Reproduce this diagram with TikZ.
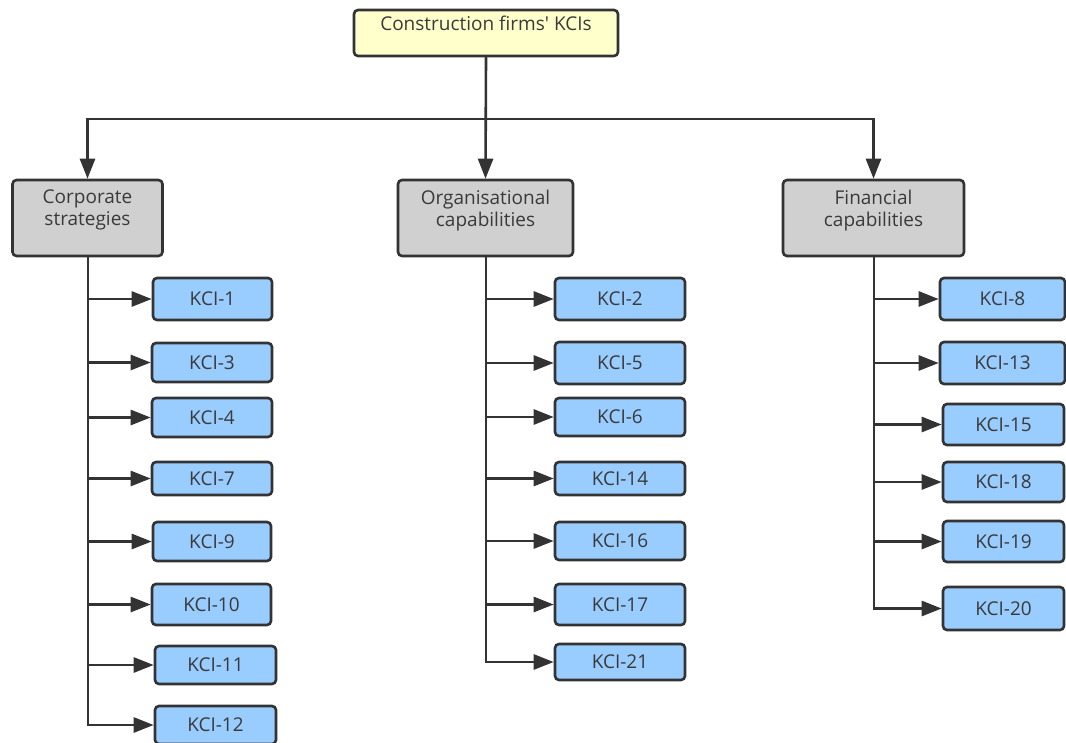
\documentclass[tikz,border=0pt]{standalone}
\usepackage{fontspec}
\setmainfont{Open Sans}[Ligatures=TeXOff]
\usetikzlibrary{arrows.meta}
\definecolor{linec}{HTML}{333333}
\definecolor{txtc}{HTML}{3A3A3A}
\definecolor{yellowf}{HTML}{FFFFCC}
\definecolor{grayf}{HTML}{D0D0D0}
\definecolor{bluef}{HTML}{99CCFF}
\tikzset{
  box/.style={draw=linec, line width=2.6pt, rounded corners=4pt, inner sep=0pt,
    font=\fontsize{19}{22}\selectfont, text=txtc},
  titlebox/.style={box, fill=yellowf, minimum width=264pt, minimum height=46pt},
  catbox/.style={box, fill=grayf, minimum height=76pt},
  kcibox/.style={box, fill=bluef},
  toplabel/.style={anchor=north, inner sep=0pt, align=center, text=txtc,
    font=\fontsize{19}{22}\selectfont},
  arr/.style={draw=linec, line width=2.6pt, -{Triangle[length=20pt,width=15pt]}},
}
\begin{document}
\begin{tikzpicture}[x=1pt,y=-1pt]
\useasboundingbox (0,0) rectangle (1066,742);
% title
\node[titlebox, label={[toplabel, yshift=-7pt]north:Construction firms' KCIs}] (title) at (486,33) {};
% categories
\node[catbox, minimum width=150pt, label={[toplabel, yshift=-11pt]north:Corporate\\strategies}] (cs) at (87.5,218) {};
\node[catbox, minimum width=175pt, label={[toplabel, yshift=-11pt]north:Organisational\\capabilities}] (org) at (485.5,218) {};
\node[catbox, minimum width=181pt, label={[toplabel, yshift=-11pt]north:Financial\\capabilities}] (fin) at (873.5,218) {};
% left column
\node[kcibox, minimum width=119pt, minimum height=42pt] (k1) at (212.5,299) {KCI-1};
\node[kcibox, minimum width=120pt, minimum height=39pt] (k3) at (212,362.5) {KCI-3};
\node[kcibox, minimum width=120pt, minimum height=39pt] (k4) at (212,417.5) {KCI-4};
\node[kcibox, minimum width=120pt, minimum height=33pt] (k7) at (212,478.5) {KCI-7};
\node[kcibox, minimum width=118pt, minimum height=39pt] (k9) at (212,541.5) {KCI-9};
\node[kcibox, minimum width=119pt, minimum height=41pt] (k10) at (211.5,604.5) {KCI-10};
\node[kcibox, minimum width=121pt, minimum height=38pt] (k11) at (215.5,665) {KCI-11};
\node[kcibox, minimum width=121pt, minimum height=38pt] (k12) at (215.5,725) {KCI-12};
% middle column
\node[kcibox, minimum width=130pt, minimum height=42pt] (k2) at (620,299) {KCI-2};
\node[kcibox, minimum width=130pt, minimum height=42pt] (k5) at (620,363) {KCI-5};
\node[kcibox, minimum width=130pt, minimum height=38pt] (k6) at (620,417) {KCI-6};
\node[kcibox, minimum width=130pt, minimum height=33pt] (k14) at (620,478.5) {KCI-14};
\node[kcibox, minimum width=130pt, minimum height=38pt] (k16) at (620,541) {KCI-16};
\node[kcibox, minimum width=130pt, minimum height=41pt] (k17) at (620,604.5) {KCI-17};
\node[kcibox, minimum width=130pt, minimum height=36pt] (k21) at (620,662) {KCI-21};
% right column
\node[kcibox, minimum width=125pt, minimum height=42pt] (k8) at (1002.5,299) {KCI-8};
\node[kcibox, minimum width=125pt, minimum height=42pt] (k13) at (1002.5,363) {KCI-13};
\node[kcibox, minimum width=121pt, minimum height=41pt] (k15) at (1003.5,424.5) {KCI-15};
\node[kcibox, minimum width=121pt, minimum height=40pt] (k18) at (1003.5,482) {KCI-18};
\node[kcibox, minimum width=121pt, minimum height=41pt] (k19) at (1003.5,541.5) {KCI-19};
\node[kcibox, minimum width=121pt, minimum height=43pt] (k20) at (1003.5,608.5) {KCI-20};
% top connectors
\draw[arr] (title.south) -- (title.south |- 0,119) -| (cs.north);
\draw[arr] (title.south) -- (title.south |- 0,119) -| (fin.north);
\draw[arr] (title.south) -- (org.north);
% branches
\foreach \k in {k1,k3,k4,k7,k9,k10,k11,k12}{
  \draw[arr] (88,0 |- cs.south) |- (\k.west);
}
\foreach \k in {k2,k5,k6,k14,k16,k17,k21}{
  \draw[arr] (486,0 |- org.south) |- (\k.west);
}
\foreach \k in {k8,k13,k15,k18,k19,k20}{
  \draw[arr] (874,0 |- fin.south) |- (\k.west);
}
\end{tikzpicture}
\end{document}
